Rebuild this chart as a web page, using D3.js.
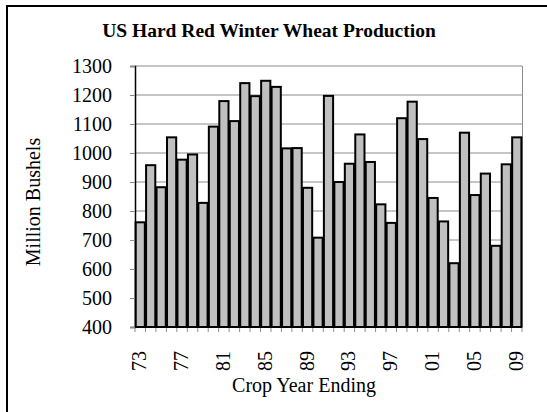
<!DOCTYPE html>
<html>
<head>
<meta charset="utf-8">
<script src="https://cdn.jsdelivr.net/npm/d3@7"></script>
<style>
  body { margin: 0; background: #fff; }
  text { font-family: "Liberation Serif", "Times New Roman", serif; }
</style>
</head>
<body>
<div id="chart"></div>
<script>
// crop years ending 1973 - 2009
var years = ["73","74","75","76","77","78","79","80","81","82","83","84","85","86","87","88","89","90",
  "91","92","93","94","95","96","97","98","99","00","01","02","03","04","05","06","07","08","09"];
var production = [761, 958, 882, 1054, 977, 995, 828, 1091, 1179, 1110, 1241, 1196, 1249, 1228, 1016, 1017, 880, 708,
  1197, 900, 963, 1064, 969, 823, 759, 1120, 1177, 1048, 845, 764, 620, 1070, 855, 929, 680, 961, 1054];
var yTicks = [400, 500, 600, 700, 800, 900, 1000, 1100, 1200, 1300];
var labelYears = ["73","77","81","85","89","93","97","01","05","09"];

var width = 547, height = 412;
var plotLeft = 135, plotRight = 522, plotTop = 66, plotBottom = 327;

var svg = d3.select("#chart").append("svg")
  .attr("width", width)
  .attr("height", height);

// outer chart border (runs off the picture on right / bottom)
svg.append("rect")
  .attr("x", 7).attr("y", 6)
  .attr("width", 600).attr("height", 500)
  .attr("fill", "none")
  .attr("stroke", "#000")
  .attr("stroke-width", 2);

var x = d3.scaleBand().domain(years).range([plotLeft, plotRight]).paddingInner(0.12).paddingOuter(0.06);
var y = d3.scaleLinear().domain([400, 1300]).range([plotBottom, plotTop]);

// gridlines
svg.append("g").selectAll("line")
  .data(yTicks.slice(1))
  .enter().append("line")
  .attr("x1", plotLeft).attr("x2", plotRight)
  .attr("y1", function(d) { return y(d); })
  .attr("y2", function(d) { return y(d); })
  .attr("stroke", "#8c8c8c")
  .attr("stroke-width", 1);

// right edge of plot area
svg.append("line")
  .attr("x1", plotRight + 0.5).attr("x2", plotRight + 0.5)
  .attr("y1", plotTop).attr("y2", plotBottom)
  .attr("stroke", "#8c8c8c");

// bars
svg.append("g").selectAll("rect")
  .data(production)
  .enter().append("rect")
  .attr("x", function(d, i) { return x(years[i]); })
  .attr("y", function(d) { return y(d); })
  .attr("width", x.bandwidth())
  .attr("height", function(d) { return y(400) - y(d); })
  .attr("fill", "#c0c0c0")
  .attr("stroke", "#000")
  .attr("stroke-width", 2);

// y axis
var yAxis = svg.append("g")
  .attr("transform", "translate(" + plotLeft + ",0)")
  .call(d3.axisLeft(y).tickValues(yTicks).tickFormat(d3.format("d")).tickSize(5).tickPadding(18));
yAxis.attr("font-family", "Liberation Serif").attr("font-size", 20);
yAxis.select(".domain").attr("stroke", "#000").attr("stroke-width", 1.5);
yAxis.selectAll(".tick line").attr("stroke", "#8c8c8c");
yAxis.selectAll(".tick text").attr("fill", "#000");

// x axis: ticks at category boundaries
var bounds = d3.range(years.length + 1).map(function(i) {
  return plotLeft + i * (plotRight - plotLeft) / years.length;
});
svg.append("g").selectAll("line")
  .data(bounds)
  .enter().append("line")
  .attr("x1", function(d) { return d; })
  .attr("x2", function(d) { return d; })
  .attr("y1", plotBottom).attr("y2", plotBottom + 5)
  .attr("stroke", "#8c8c8c");

svg.append("line")
  .attr("x1", plotLeft).attr("x2", plotRight)
  .attr("y1", plotBottom + 0.5).attr("y2", plotBottom + 0.5)
  .attr("stroke", "#000");

svg.append("g").selectAll("text")
  .data(labelYears)
  .enter().append("text")
  .attr("transform", function(d) {
    return "translate(" + (x(d) + x.bandwidth() / 2 + 6) + "," + 351 + ") rotate(-90)";
  })
  .attr("text-anchor", "end")
  .attr("font-size", 20)
  .text(function(d) { return d; });

// titles
svg.append("text")
  .attr("x", 269).attr("y", 37)
  .attr("text-anchor", "middle")
  .attr("font-size", 19.5)
  .attr("font-weight", "bold")
  .text("US Hard Red Winter Wheat Production");

svg.append("text")
  .attr("x", 304).attr("y", 392)
  .attr("text-anchor", "middle")
  .attr("font-size", 20)
  .text("Crop Year Ending");

svg.append("text")
  .attr("transform", "translate(40,202) rotate(-90)")
  .attr("text-anchor", "middle")
  .attr("font-size", 20)
  .text("Million Bushels");
</script>
</body>
</html>
